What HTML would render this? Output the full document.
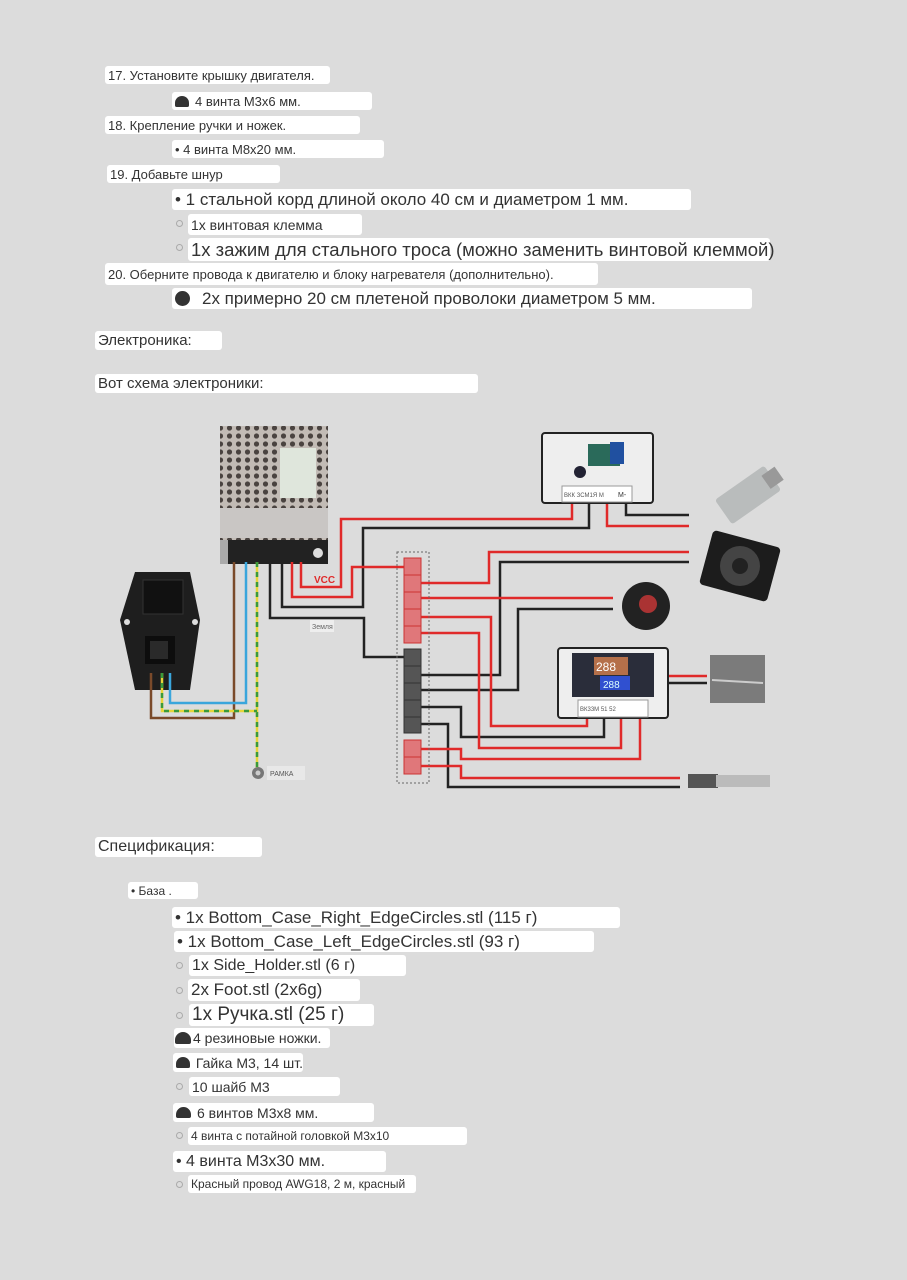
<!DOCTYPE html>
<html><head><meta charset="utf-8"><style>
body{margin:0;width:907px;height:1280px;background:#dcdcdc;position:relative;overflow:hidden;font-family:"Liberation Sans",Arial,sans-serif;color:#333}
.b{position:absolute;background:#fff;border-radius:3px;white-space:nowrap;box-sizing:border-box;padding-left:3px;display:flex;align-items:center}
.o{position:absolute;width:5px;height:5px;border:1.5px solid #aaa;border-radius:50%}
.h{display:inline-block;width:14px;height:11px;background:#333;border-radius:8px 8px 2px 2px;margin-right:6px}
</style></head><body>
<div class="b" style="left:105px;top:66px;width:225px;height:18px;font-size:13px">17. Установите крышку двигателя.</div>
<div class="b" style="left:172px;top:92px;width:200px;height:18px;font-size:13px"><span class="h"></span>4 винта М3х6 мм.</div>
<div class="b" style="left:105px;top:116px;width:255px;height:18px;font-size:13px">18. Крепление ручки и ножек.</div>
<div class="b" style="left:172px;top:140px;width:212px;height:18px;font-size:13px">• 4 винта М8х20 мм.</div>
<div class="b" style="left:107px;top:165px;width:173px;height:18px;font-size:13px">19. Добавьте шнур</div>
<div class="b" style="left:172px;top:189px;width:519px;height:21px;font-size:17px">• 1 стальной корд длиной около 40 см и диаметром 1 мм.</div>
<div class="o" style="left:176px;top:220px"></div>
<div class="b" style="left:188px;top:214px;width:174px;height:21px;font-size:14px">1х винтовая клемма</div>
<div class="o" style="left:176px;top:244px"></div>
<div class="b" style="left:188px;top:238px;width:582px;height:23px;font-size:18.5px">1х зажим для стального троса (можно заменить винтовой клеммой)</div>
<div class="b" style="left:105px;top:263px;width:493px;height:22px;font-size:13px">20. Оберните провода к двигателю и блоку нагревателя (дополнительно).</div>
<div class="b" style="left:172px;top:288px;width:580px;height:21px;font-size:17px"><span class="h" style="width:15px;height:15px;border-radius:50%;margin-right:12px"></span>2х примерно 20 см плетеной проволоки диаметром 5 мм.</div>
<div class="b" style="left:95px;top:331px;width:127px;height:19px;font-size:15px">Электроника:</div>
<div class="b" style="left:95px;top:374px;width:383px;height:19px;font-size:15px">Вот схема электроники:</div>

<svg style="position:absolute;left:0;top:0" width="907" height="1280">
<defs><pattern id="hx" width="9" height="8" patternUnits="userSpaceOnUse"><rect width="9" height="8" fill="#c2bbb5"/><circle cx="4.5" cy="4" r="2.6" fill="#4a4340"/></pattern></defs>
<rect x="220" y="426" width="108" height="114" fill="url(#hx)"/>
<rect x="280" y="448" width="36" height="50" fill="#dfe6dc"/>
<rect x="220" y="508" width="108" height="30" fill="#c9c6c4"/>
<rect x="228" y="540" width="100" height="24" fill="#222"/>
<rect x="220" y="540" width="8" height="24" fill="#aaa"/>
<circle cx="318" cy="553" r="5" fill="#ddd"/>
<polygon points="135,572 190,572 200,620 190,690 135,690 120,620" fill="#1e1e1e"/>
<rect x="143" y="580" width="40" height="34" fill="#111" stroke="#333"/>
<rect x="145" y="636" width="30" height="28" fill="#0d0d0d"/>
<rect x="150" y="641" width="18" height="18" fill="#2a2a2a"/>
<circle cx="127" cy="622" r="3" fill="#ddd"/><circle cx="195" cy="622" r="3" fill="#ddd"/>
<g fill="none" stroke-width="2.5">
<polyline points="234,562 234,718 151,718 151,673" stroke="#7a4a2a"/>
<polyline points="246,562 246,703 170,703 170,673" stroke="#3aa6dc"/>
<polyline points="257,562 257,768" stroke="#e6d53a"/>
<polyline points="257,562 257,768" stroke="#3a9a3a" stroke-dasharray="5 5"/>
<polyline points="162,673 162,711 257,711" stroke="#e6d53a"/>
<polyline points="162,673 162,711 257,711" stroke="#3a9a3a" stroke-dasharray="5 5"/>
<polyline points="270,562 270,618 364,618 364,657 404,657" stroke="#222"/>
<polyline points="282,562 282,607 363,607 363,528 589,528 589,503" stroke="#222"/>
<polyline points="626,503 626,515 689,515" stroke="#222"/>
<polyline points="421,675 500,675 500,562 689,562" stroke="#222"/>
<polyline points="421,690 518,690 518,609 613,609" stroke="#222"/>
<polyline points="421,707 461,707 461,737 604,737 604,718" stroke="#222"/>
<polyline points="421,724 448,724 448,787 680,787" stroke="#222"/>
<polyline points="668,683 707,683" stroke="#222"/>
<polyline points="292,562 292,597 352,597 352,567 404,567" stroke="#e02a2a"/>
<polyline points="301,562 301,587 341,587 341,519 572,519 572,503" stroke="#e02a2a"/>
<polyline points="607,503 607,526 689,526" stroke="#e02a2a"/>
<polyline points="421,583 489,583 489,552 689,552" stroke="#e02a2a"/>
<polyline points="421,598 613,598" stroke="#e02a2a"/>
<polyline points="421,617 491,617 491,726 587,726 587,718" stroke="#e02a2a"/>
<polyline points="421,633 479,633 479,748 621,748 621,718" stroke="#e02a2a"/>
<polyline points="421,749 461,749 461,759 640,759 640,718" stroke="#e02a2a"/>
<polyline points="421,766 461,766 461,778 680,778" stroke="#e02a2a"/>
<polyline points="668,676 707,676" stroke="#e02a2a"/>
</g>
<text x="314" y="583" font-size="10" font-weight="bold" fill="#e02a2a" font-family="Liberation Sans">VCC</text>
<rect x="310" y="620" width="24" height="12" fill="#eee"/>
<text x="312" y="629" font-size="7" fill="#666" font-family="Liberation Sans">Земля</text>
<circle cx="258" cy="773" r="6" fill="#777"/><circle cx="258" cy="773" r="2.5" fill="#ccc"/>
<rect x="267" y="766" width="38" height="14" fill="#e8e8e8"/>
<text x="270" y="776" font-size="7" fill="#555" font-family="Liberation Sans">РАМКА</text>
<rect x="397" y="552" width="32" height="231" fill="none" stroke="#666" stroke-dasharray="2 2"/>
<g fill="#e0777a" stroke="#c33"><rect x="404" y="558" width="17" height="17"/><rect x="404" y="575" width="17" height="17"/><rect x="404" y="592" width="17" height="17"/><rect x="404" y="609" width="17" height="17"/><rect x="404" y="626" width="17" height="17"/><rect x="404" y="740" width="17" height="17"/><rect x="404" y="757" width="17" height="17"/></g>
<g fill="#555" stroke="#333"><rect x="404" y="649" width="17" height="17"/><rect x="404" y="666" width="17" height="17"/><rect x="404" y="683" width="17" height="17"/><rect x="404" y="700" width="17" height="17"/><rect x="404" y="717" width="17" height="16"/></g>
<rect x="542" y="433" width="111" height="70" rx="3" fill="#eee" stroke="#222" stroke-width="2"/>
<rect x="588" y="444" width="32" height="22" fill="#2a6a5a"/><rect x="610" y="442" width="14" height="22" fill="#2050a0"/><circle cx="580" cy="472" r="6" fill="#223"/>
<rect x="562" y="486" width="70" height="16" fill="#fff" stroke="#999"/>
<text x="564" y="497" font-size="6" fill="#555" font-family="Liberation Sans">ВКК ЗСМ1Я М</text>
<text x="618" y="497" font-size="7" fill="#333" font-family="Liberation Sans">M-</text>
<rect x="558" y="648" width="110" height="70" rx="3" fill="#eee" stroke="#222" stroke-width="2"/>
<rect x="572" y="653" width="82" height="44" fill="#2a2d3a"/>
<rect x="594" y="657" width="34" height="18" fill="#b5704a"/><text x="596" y="671" font-size="12" fill="#fff" font-family="Liberation Sans">288</text>
<rect x="600" y="676" width="30" height="14" fill="#3050d0"/><text x="603" y="688" font-size="10" fill="#dff" font-family="Liberation Sans">288</text>
<rect x="578" y="700" width="70" height="17" fill="#fff" stroke="#999"/>
<text x="580" y="711" font-size="6" fill="#555" font-family="Liberation Sans">ВК33М 51 52</text>
<g transform="rotate(-35 748 495)"><rect x="718" y="480" width="60" height="30" rx="3" fill="#b9bcbc"/><rect x="770" y="487" width="16" height="16" fill="#999"/></g>
<rect x="705" y="538" width="70" height="56" rx="4" fill="#1c1c1c" transform="rotate(15 740 566)"/><circle cx="740" cy="566" r="20" fill="#444"/><circle cx="740" cy="566" r="8" fill="#222"/>
<circle cx="646" cy="606" r="24" fill="#222"/><circle cx="648" cy="604" r="9" fill="#a33"/>
<rect x="710" y="655" width="55" height="48" fill="#7b7b7b"/><line x1="712" y1="680" x2="763" y2="683" stroke="#ccc" stroke-width="2"/>
<rect x="688" y="774" width="30" height="14" fill="#555"/><rect x="716" y="775" width="54" height="12" fill="#bbb"/>
</svg>

<div class="b" style="left:95px;top:837px;width:167px;height:20px;font-size:16px">Спецификация:</div>
<div class="b" style="left:128px;top:882px;width:70px;height:17px;font-size:12px">• База .</div>
<div class="b" style="left:172px;top:907px;width:448px;height:21px;font-size:17px">• 1x Bottom_Case_Right_EdgeCircles.stl (115 г)</div>
<div class="b" style="left:174px;top:931px;width:420px;height:21px;font-size:17px">• 1x Bottom_Case_Left_EdgeCircles.stl (93 г)</div>
<div class="o" style="left:176px;top:962px"></div>
<div class="b" style="left:189px;top:955px;width:217px;height:21px;font-size:16px">1x Side_Holder.stl (6 г)</div>
<div class="o" style="left:176px;top:987px"></div>
<div class="b" style="left:188px;top:979px;width:172px;height:22px;font-size:17px">2x Foot.stl (2x6g)</div>
<div class="o" style="left:176px;top:1012px"></div>
<div class="b" style="left:189px;top:1004px;width:185px;height:22px;font-size:19px">1x Ручка.stl (25 г)</div>
<div class="b" style="left:174px;top:1028px;width:156px;height:20px;font-size:14px;padding-left:1px"><span class="h" style="margin-right:2px;width:16px;height:12px"></span>4 резиновые ножки.</div>
<div class="b" style="left:173px;top:1053px;width:130px;height:19px;font-size:14px"><span class="h" style="width:15px"></span>Гайка М3, 14 шт.</div>
<div class="o" style="left:176px;top:1083px"></div>
<div class="b" style="left:189px;top:1077px;width:151px;height:19px;font-size:14px">10 шайб М3</div>
<div class="b" style="left:173px;top:1103px;width:201px;height:19px;font-size:14px"><span class="h" style="width:15px"></span>6 винтов М3х8 мм.</div>
<div class="o" style="left:176px;top:1132px"></div>
<div class="b" style="left:188px;top:1127px;width:279px;height:18px;font-size:12px">4 винта с потайной головкой М3х10</div>
<div class="b" style="left:173px;top:1151px;width:213px;height:21px;font-size:16px">• 4 винта М3х30 мм.</div>
<div class="o" style="left:176px;top:1181px"></div>
<div class="b" style="left:188px;top:1175px;width:228px;height:18px;font-size:12px">Красный провод AWG18, 2 м, красный</div>
</body></html>
